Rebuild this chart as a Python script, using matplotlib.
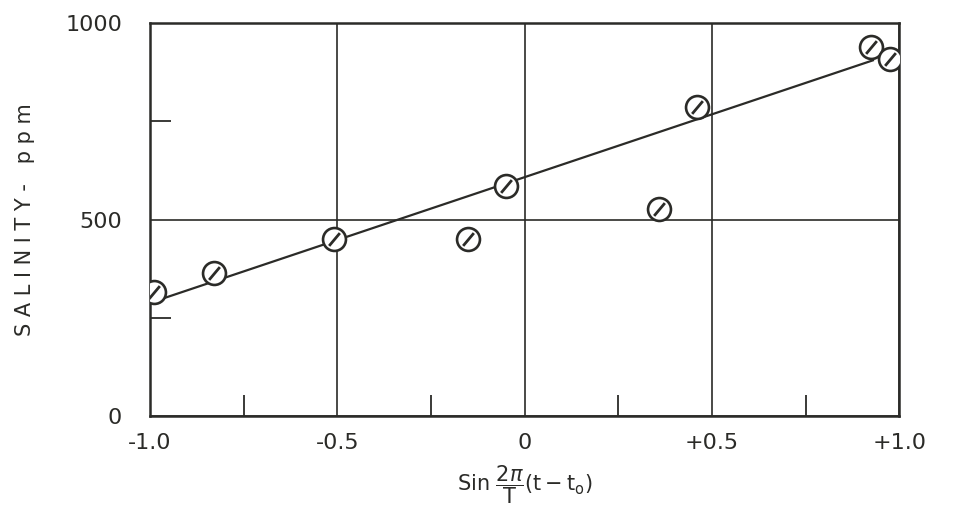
import matplotlib
matplotlib.use("Agg")
import matplotlib.pyplot as plt
from matplotlib.ticker import FixedLocator

sin_phase = [-0.99, -0.83, -0.51, -0.15, -0.05, 0.36, 0.46, 0.925, 0.975]
salinity = [315, 365, 450, 450, 585, 527, 786, 939, 908]

# fitted line end points
fit_x = [-1.0, 0.93]
fit_y = [288, 905]

x_ticks = [-1.0, -0.5, 0.0, 0.5, 1.0]
x_ticklabels = ["-1.0", "-0.5", "0", "+0.5", "+1.0"]
y_ticks = [0, 500, 1000]
y_ticklabels = ["0", "500", "1000"]

ink = "#2b2b28"
plt.rcParams["font.family"] = ["DejaVu Sans"]
plt.rcParams["mathtext.fontset"] = "dejavusans"

fig = plt.figure(figsize=(9.71, 5.25), dpi=100)
ax = fig.add_axes([0.1545, 0.2076, 0.7715, 0.7486])

ax.plot(fit_x, fit_y, color=ink, lw=1.6, zorder=3)
ax.plot(sin_phase, salinity, "o", ms=16.5, mfc="white", mec=ink, mew=1.9, zorder=4)
ax.plot(sin_phase, salinity, ls="none", marker=(2, 0, -40), ms=12, mec=ink, mew=2.0, zorder=5)

ax.set_xlim(-1.0, 1.0)
ax.set_ylim(0, 1000)
ax.set_xticks(x_ticks)
ax.set_xticklabels(x_ticklabels)
ax.set_yticks(y_ticks)
ax.set_yticklabels(y_ticklabels)
ax.xaxis.set_minor_locator(FixedLocator([-0.75, -0.25, 0.25, 0.75]))
ax.yaxis.set_minor_locator(FixedLocator([250, 750]))
ax.tick_params(which="major", length=0, labelsize=16, colors=ink)
ax.tick_params(axis="x", which="major", pad=12)
ax.tick_params(axis="y", which="major", pad=20)
ax.tick_params(which="minor", direction="in", length=15, width=1.3, color=ink)
ax.tick_params(top=False, right=False, which="both")

ax.grid(True, which="major", color=ink, lw=1.2)
for s in ax.spines.values():
    s.set_color(ink)
    s.set_linewidth(1.8)

ax.set_xlabel(r"Sin $\dfrac{2\pi}{\mathrm{T}}\mathrm{(t-t_o)}$", fontsize=15, color=ink, labelpad=8)
ax.set_ylabel("S A L I N I T Y -   p p m", fontsize=15, color=ink, labelpad=22)

fig.savefig("out.png", dpi=100, facecolor="white")
